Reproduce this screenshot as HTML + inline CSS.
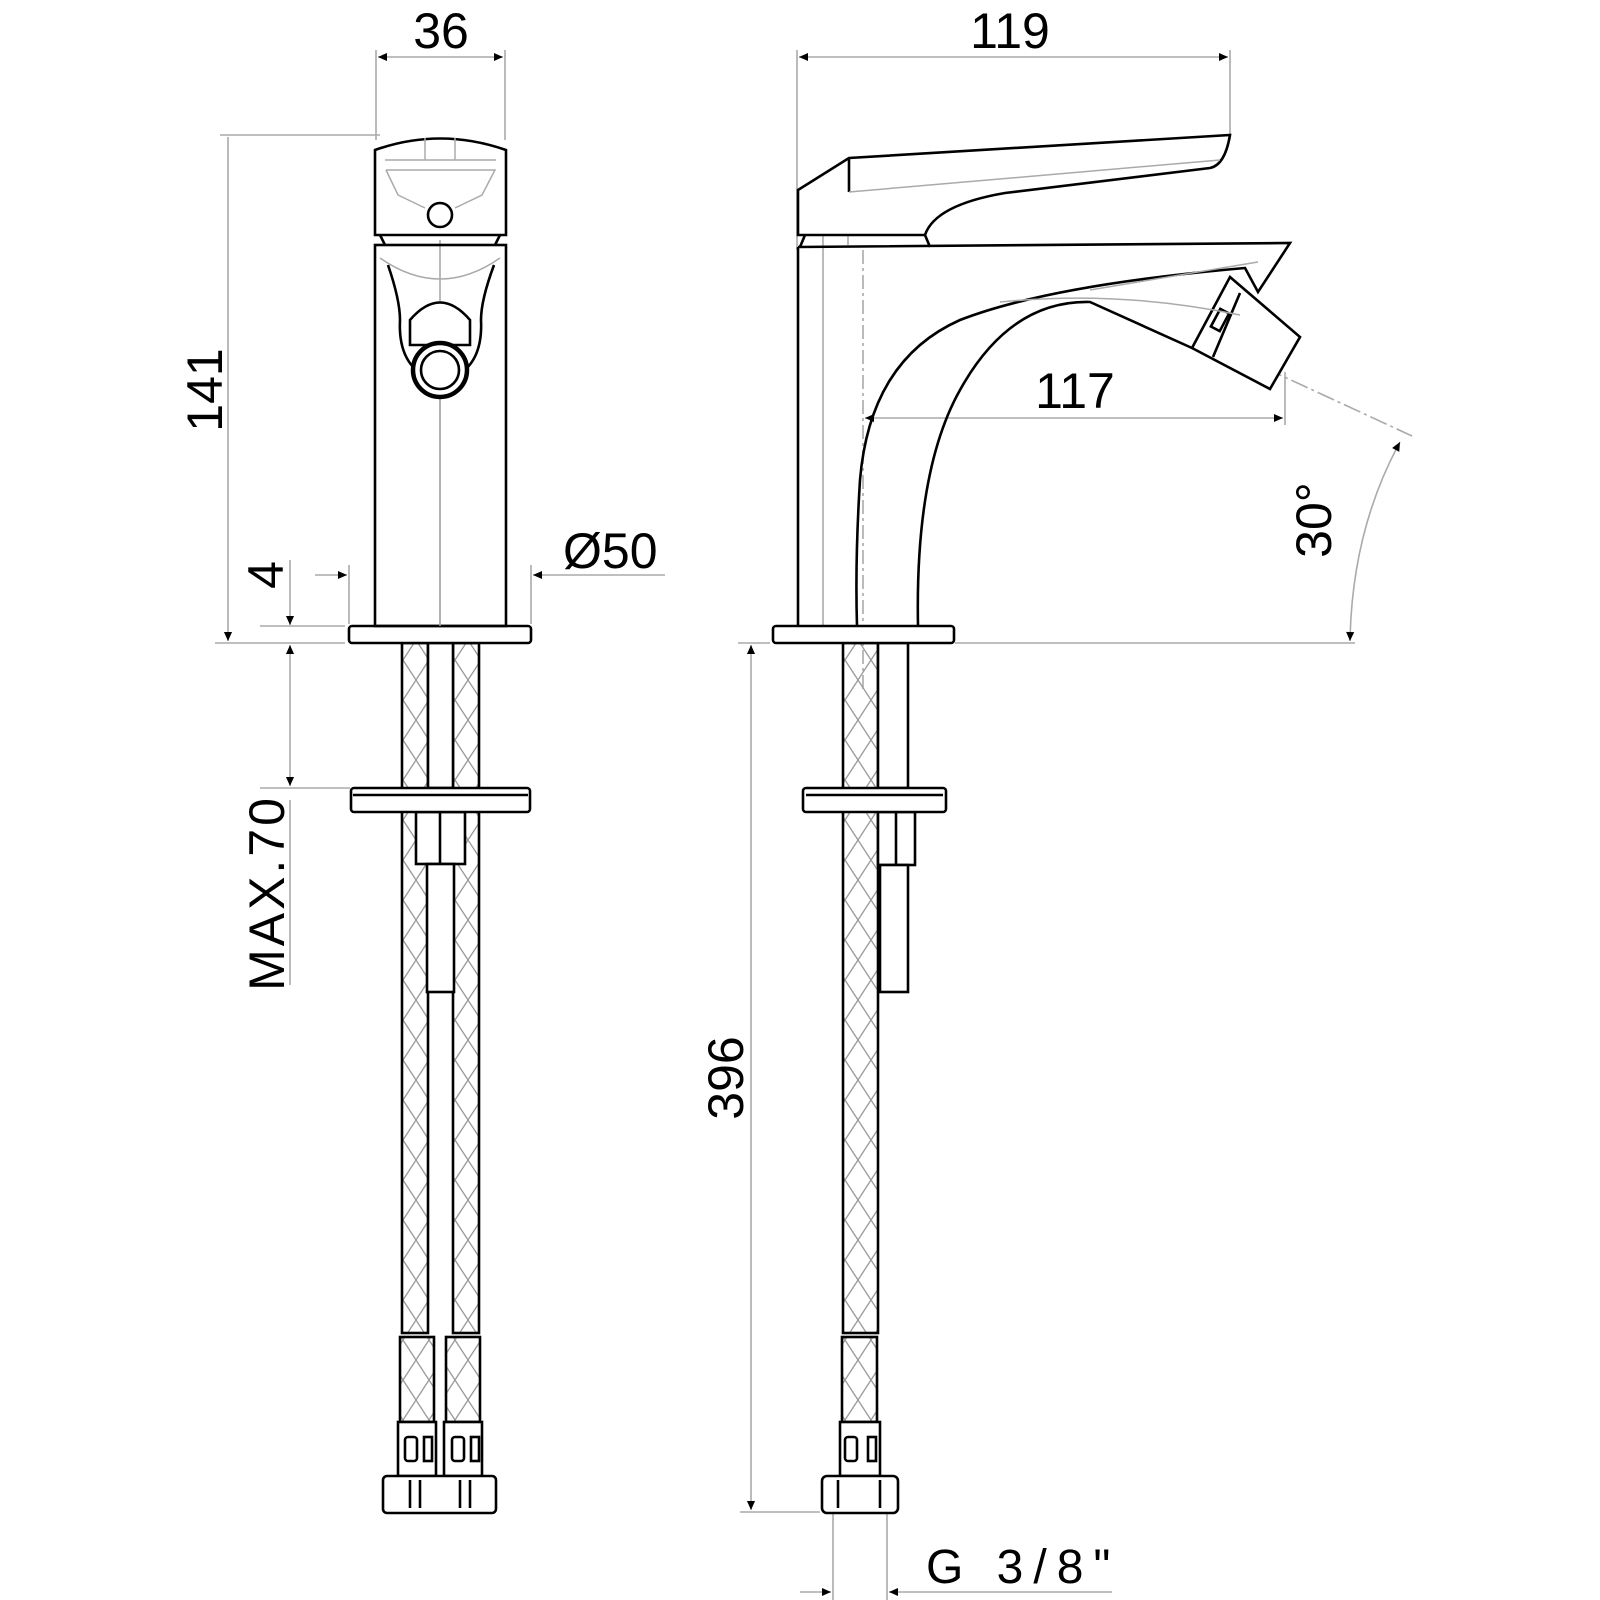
<!DOCTYPE html>
<html><head><meta charset="utf-8"><style>
html,body{margin:0;padding:0;background:#fff}
svg{display:block}
text{font-family:"Liberation Sans",sans-serif;fill:#000}
</style></head><body>
<svg width="1600" height="1600" viewBox="0 0 1600 1600" xmlns="http://www.w3.org/2000/svg">
<defs>
<pattern id="lat" width="26" height="40" patternUnits="userSpaceOnUse">
<path d="M0 0 L26 40 M26 0 L0 40" stroke="#9a9a9a" stroke-width="1.3" fill="none"/>
</pattern>
<marker id="ar" viewBox="0 0 10 10" refX="10" refY="5" markerWidth="17" markerHeight="9" markerUnits="userSpaceOnUse" orient="auto-start-reverse">
<path d="M0 0.5 L10 5 L0 9.5 z" fill="#000"/>
</marker>
</defs>
<rect width="1600" height="1600" fill="#fff"/>

<g stroke="#aaa" stroke-width="1.6" fill="none">
<line x1="376" y1="50" x2="376" y2="140"/><line x1="505" y1="50" x2="505" y2="140"/>
<line x1="378" y1="57" x2="503" y2="57" marker-start="url(#ar)" marker-end="url(#ar)"/>
<line x1="220" y1="135" x2="380" y2="135"/>
<line x1="228" y1="137" x2="228" y2="641" marker-end="url(#ar)"/>
<line x1="215" y1="643" x2="345" y2="643"/>
<line x1="260" y1="626" x2="345" y2="626"/>
<line x1="290" y1="560" x2="290" y2="625" marker-end="url(#ar)"/>
<line x1="290" y1="645" x2="290" y2="786" marker-start="url(#ar)" marker-end="url(#ar)"/>
<line x1="260" y1="788" x2="350" y2="788"/>
<line x1="290" y1="800" x2="290" y2="985"/>
<line x1="349" y1="565" x2="349" y2="624"/><line x1="531" y1="565" x2="531" y2="624"/>
<line x1="315" y1="575" x2="347" y2="575" marker-end="url(#ar)"/>
<line x1="533" y1="575" x2="665" y2="575" marker-start="url(#ar)"/>
<line x1="440" y1="240" x2="440" y2="630"/>
<line x1="797" y1="50" x2="797" y2="250"/><line x1="1230" y1="50" x2="1230" y2="135"/>
<line x1="799" y1="57" x2="1228" y2="57" marker-start="url(#ar)" marker-end="url(#ar)"/>
<line x1="823" y1="190" x2="823" y2="625"/><line x1="848" y1="160" x2="848" y2="245"/>
<line x1="863" y1="250" x2="863" y2="690" stroke-dasharray="14 4 3 4"/>
<line x1="865" y1="418" x2="1283" y2="418" marker-start="url(#ar)" marker-end="url(#ar)"/>
<line x1="1285" y1="372" x2="1285" y2="425"/>
<line x1="1265" y1="368" x2="1412" y2="436" stroke-dasharray="18 4 3 4"/>
<line x1="955" y1="643" x2="1355" y2="643"/>
<path d="M1400 442 Q1352 530 1350 641" marker-start="url(#ar)" marker-end="url(#ar)"/>
<line x1="738" y1="643" x2="770" y2="643"/>
<line x1="751" y1="645" x2="751" y2="1510" marker-start="url(#ar)" marker-end="url(#ar)"/>
<line x1="740" y1="1512" x2="820" y2="1512"/>
<line x1="833" y1="1514" x2="833" y2="1600"/><line x1="887" y1="1514" x2="887" y2="1600"/>
<line x1="800" y1="1592" x2="831" y2="1592" marker-end="url(#ar)"/>
<line x1="889" y1="1592" x2="1112" y2="1592" marker-start="url(#ar)"/>
</g>

<text x="441" y="48" font-size="50" text-anchor="middle">36</text>
<text x="1010" y="48" font-size="50" text-anchor="middle">119</text>
<text x="1075" y="408" font-size="50" text-anchor="middle">117</text>
<text transform="translate(222,390) rotate(-90)" font-size="50" text-anchor="middle">141</text>
<text transform="translate(283,575) rotate(-90)" font-size="50" text-anchor="middle">4</text>
<text transform="translate(284,893) rotate(-90)" font-size="50" text-anchor="middle" letter-spacing="3">MAX.70</text>
<text transform="translate(743,1078) rotate(-90)" font-size="50" text-anchor="middle">396</text>
<text transform="translate(1331,520) rotate(-90)" font-size="50" text-anchor="middle">30°</text>
<text x="563" y="568" font-size="50">Ø50</text>
<text x="926" y="1583" font-size="48" letter-spacing="10">G 3/8"</text>

<g stroke="#000" stroke-width="2.6" fill="#fff">
<rect x="402" y="643" width="26" height="690" fill="url(#lat)"/>
<rect x="453" y="643" width="26" height="690" fill="url(#lat)"/>
<rect x="400" y="1337" width="34" height="85" fill="url(#lat)"/>
<rect x="446" y="1337" width="34" height="85" fill="url(#lat)"/>
<rect x="398" y="1422" width="38" height="54"/><rect x="444" y="1422" width="38" height="54"/>
<rect x="405" y="1437" width="12" height="24" rx="3"/><rect x="424" y="1437" width="8" height="24"/>
<rect x="452" y="1437" width="12" height="24" rx="3"/><rect x="471" y="1437" width="8" height="24"/>
<rect x="383" y="1476" width="113" height="37" rx="4"/>
<line x1="410" y1="1480" x2="410" y2="1508"/><line x1="420" y1="1480" x2="420" y2="1508"/>
<line x1="460" y1="1480" x2="460" y2="1508"/><line x1="470" y1="1480" x2="470" y2="1508"/>
<rect x="428" y="643" width="25" height="145"/>
<rect x="416" y="812" width="49" height="52"/>
<line x1="440" y1="812" x2="440" y2="864"/>
<rect x="427" y="864" width="27" height="128"/>
<rect x="349" y="626" width="182" height="17" rx="3"/>
<rect x="351" y="788" width="179" height="24" rx="3"/>
<line x1="353" y1="795" x2="528" y2="795"/>
<rect x="375" y="245" width="131" height="381" fill="none"/>
<path d="M375 150 Q440 127 506 150 L506 235 L375 235 Z"/>
<path d="M380 235 L385 245 M500 235 L495 245" fill="none"/>
<circle cx="440" cy="215" r="12"/>
<path d="M388 265 Q400 300 400 320 Q398 360 423 375 L458 375 Q483 360 481 320 Q481 300 494 265" fill="none"/>
<path d="M410 320 Q440 285 470 320 L470 345 L410 345 Z"/>
<circle cx="440" cy="370" r="27" stroke-width="4.5"/>
<circle cx="440" cy="370" r="19"/>
</g>
<g stroke="#aaa" stroke-width="1.5" fill="none">
<path d="M385 160 L496 160 M386 170 L495 170 L482 195 L455 208 M386 170 L398 195 L425 208"/>
<line x1="425" y1="138" x2="425" y2="160"/><line x1="455" y1="138" x2="455" y2="160"/>
<path d="M380 258 Q440 300 500 258"/>
<line x1="440" y1="400" x2="440" y2="626"/>
</g>

<g stroke="#000" stroke-width="2.6" fill="#fff">
<rect x="843" y="643" width="35" height="690" fill="url(#lat)"/>
<rect x="842" y="1337" width="35" height="85" fill="url(#lat)"/>
<rect x="840" y="1422" width="40" height="54"/>
<rect x="845" y="1437" width="12" height="24" rx="3"/><rect x="868" y="1437" width="8" height="24"/>
<rect x="822" y="1476" width="76" height="37" rx="5"/>
<line x1="838" y1="1480" x2="838" y2="1508"/><line x1="880" y1="1480" x2="880" y2="1508"/>
<rect x="878" y="643" width="30" height="145"/>
<rect x="878" y="812" width="37" height="53"/>
<line x1="896" y1="812" x2="896" y2="865"/>
<rect x="880" y="865" width="28" height="127"/>
<rect x="773" y="626" width="181" height="17" rx="3"/>
<rect x="803" y="788" width="143" height="24" rx="3"/>
<line x1="806" y1="795" x2="943" y2="795"/>
<line x1="798" y1="247" x2="798" y2="626"/>
<path d="M798 247 L1290 243 L1258 292 L1245 268 Q1050 285 960 320 Q870 360 860 480 Q855 560 857 626" fill="none"/>
<path d="M918 626 Q915 470 960 390 Q1010 300 1090 302 L1192 348" fill="none"/>
<path d="M798 190 L849 158 L1230 135 Q1225 165 1210 168 L1005 193 Q935 205 925 235 L798 235 Z"/>
<line x1="849" y1="158" x2="849" y2="192"/>
<path d="M805 235 L800 247 M925 235 L930 247" fill="none"/>
<path d="M1230 277 L1300 337 L1270 389 L1192 348 Z"/>
<line x1="1240" y1="293" x2="1213" y2="357"/>
<rect x="1215" y="310" width="10" height="20" transform="rotate(28 1220 320)"/>
</g>
<g stroke="#aaa" stroke-width="1.5" fill="none">
<line x1="849" y1="192" x2="1220" y2="160"/>
<path d="M1000 302 Q1120 290 1240 315"/>
<path d="M1090 290 L1258 262"/>
</g>
</svg>
</body></html>
